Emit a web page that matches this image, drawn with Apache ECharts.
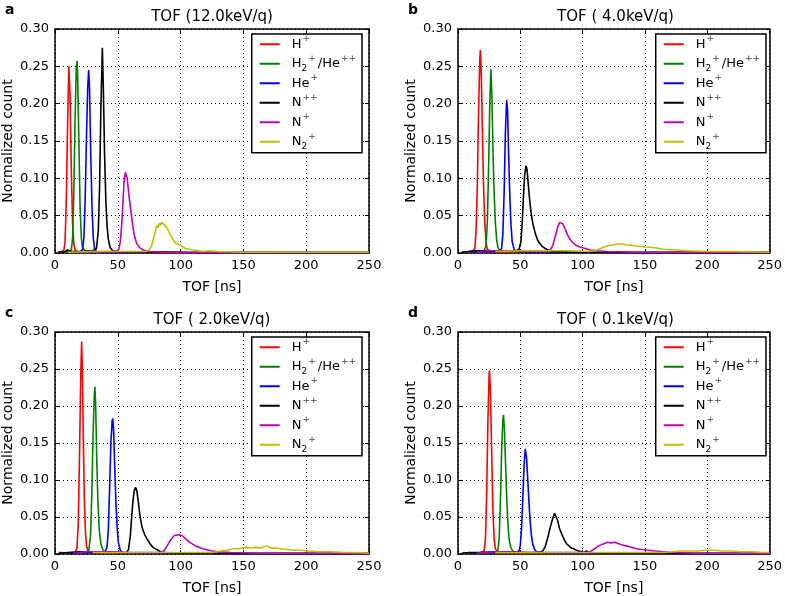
<!DOCTYPE html>
<html>
<head>
<meta charset="utf-8">
<script src="https://cdn.jsdelivr.net/npm/echarts@6/dist/echarts.min.js"></script>
<style>html,body{margin:0;padding:0;background:#fff}#c{width:785px;height:596px}</style>
</head>
<body>
<div id="c"></div>
<script>
// ---------- labels ----------
const panelTitles = ['TOF (12.0keV/q)', 'TOF ( 4.0keV/q)', 'TOF ( 2.0keV/q)', 'TOF ( 0.1keV/q)'];
const panelLetters = ['a', 'b', 'c', 'd'];
const seriesNames = ['H+', 'H2+/He++', 'He+', 'N++', 'N+', 'N2+'];
const seriesColors = ['#ff0000', '#008000', '#0000ff', '#000000', '#bf00bf', '#bfbf00'];
const xTickRange = [0, 250, 50];
const yTickRange = [0, 0.30, 0.05];

// ---------- panel a: 12.0 keV/q ----------
const a_H = [[2,0.001],[5,0.002],[7,0.003],[8,0.015],[9,0.07],[10,0.17],[11,0.25],[12,0.21],[13,0.11],[14,0.04],[15,0.012],[16,0.004],[18,0.002],[25,0.001],[60,0.0005],[250,0.0003]];
const a_H2 = [[5,0.001],[10,0.002],[13,0.004],[14,0.02],[15,0.08],[16,0.18],[17,0.25],[17.5,0.257],[18,0.24],[19,0.15],[20,0.06],[21,0.02],[22,0.007],[24,0.003],[30,0.002],[50,0.001],[250,0.0005]];
const a_He = [[10,0.001],[20,0.002],[22,0.005],[23,0.02],[24,0.07],[25,0.15],[26,0.22],[26.8,0.245],[27.5,0.22],[28.5,0.13],[29.5,0.06],[30.5,0.02],[31.5,0.006],[33,0.002],[40,0.001],[250,0.0005]];
const a_Npp = [[3,0.001],[8,0.002],[10,0.004],[12,0.002],[20,0.002],[30,0.003],[33,0.006],[34.5,0.03],[35.5,0.09],[36.5,0.19],[37.7,0.275],[38.5,0.22],[39.5,0.13],[40.5,0.07],[41.5,0.035],[42.5,0.018],[44,0.007],[46,0.003],[50,0.002],[100,0.001],[250,0.0005]];
const a_Np = [[20,0.001],[40,0.002],[48,0.002],[50,0.003],[51,0.006],[52,0.015],[53,0.035],[54,0.065],[55,0.095],[56,0.108],[56.7,0.11],[57.5,0.1],[58.5,0.083],[59.5,0.068],[60.5,0.055],[61.5,0.042],[62.5,0.03],[63.5,0.021],[65,0.013],[67,0.008],[69,0.005],[72,0.003],[76,0.002],[85,0.001],[250,0.0005]];
const a_N2 = [[10,0.001],[30,0.002],[45,0.002],[60,0.002],[72,0.002],[75,0.004],[77,0.01],[78.5,0.02],[80,0.03],[81,0.037],[82,0.034],[83,0.04],[84,0.037],[85,0.041],[86,0.043],[87,0.038],[88,0.036],[89,0.034],[90,0.031],[91,0.029],[92,0.024],[93,0.021],[94,0.018],[95,0.016],[96,0.013],[98,0.012],[100,0.01],[102,0.008],[104,0.006],[107,0.005],[110,0.004],[114,0.003],[118,0.002],[122,0.003],[130,0.002],[150,0.001],[250,0.001]];

// ---------- panel b: 4.0 keV/q ----------
const b_H = [[3,0.001],[8,0.001],[12,0.002],[13.5,0.006],[14.5,0.03],[15.5,0.09],[16.5,0.19],[17.5,0.26],[18,0.272],[18.7,0.24],[19.5,0.17],[20.5,0.09],[21.5,0.04],[22.5,0.015],[23.5,0.005],[26,0.002],[40,0.001],[250,0.0005]];
const b_H2 = [[5,0.001],[15,0.002],[21,0.003],[22.5,0.01],[23.5,0.04],[24.5,0.11],[25.5,0.2],[26.4,0.246],[27.2,0.21],[28,0.14],[29,0.08],[30,0.04],[31,0.018],[32,0.008],[33.5,0.003],[40,0.002],[60,0.001],[250,0.0005]];
const b_He = [[10,0.001],[25,0.002],[33,0.002],[35,0.006],[36,0.025],[37,0.08],[38,0.16],[39,0.205],[39.8,0.19],[40.5,0.14],[41.5,0.08],[42.5,0.038],[43.5,0.015],[45,0.005],[47,0.002],[60,0.001],[250,0.0005]];
const b_Npp = [[3,0.001],[8,0.002],[12,0.003],[20,0.003],[30,0.003],[40,0.003],[47,0.003],[49,0.005],[50.5,0.015],[51.5,0.04],[52.5,0.075],[53.5,0.105],[54.5,0.117],[55.3,0.113],[56,0.1],[57,0.08],[58,0.063],[59,0.05],[60,0.04],[61,0.033],[62,0.026],[63.5,0.019],[65,0.014],[67,0.01],[69,0.007],[72,0.004],[76,0.002],[90,0.001],[250,0.0005]];
const b_Np = [[15,0.001],[25,0.003],[40,0.003],[60,0.002],[72,0.002],[74,0.004],[76,0.01],[78,0.022],[80,0.035],[81.5,0.041],[82.7,0.042],[84,0.039],[86,0.032],[88,0.024],[90,0.018],[92,0.014],[95,0.01],[98,0.008],[102,0.006],[106,0.004],[112,0.003],[120,0.002],[140,0.001],[250,0.0005]];
const b_N2 = [[30,0.002],[50,0.003],[70,0.003],[90,0.003],[105,0.002],[110,0.003],[113,0.005],[117,0.008],[121,0.01],[125,0.011],[128,0.012],[131,0.012],[135,0.011],[140,0.01],[145,0.009],[150,0.008],[158,0.007],[165,0.005],[175,0.004],[185,0.003],[200,0.002],[220,0.002],[250,0.001]];

// ---------- panel c: 2.0 keV/q ----------
const c_H = [[3,0.002],[5,0.002],[10,0.001],[16,0.002],[17.5,0.008],[18.5,0.04],[19.5,0.13],[20.5,0.24],[21.2,0.287],[21.8,0.25],[22.5,0.16],[23.3,0.08],[24.2,0.03],[25.2,0.01],[26.5,0.004],[30,0.002],[50,0.001],[250,0.0005]];
const c_H2 = [[5,0.001],[15,0.002],[25,0.003],[27,0.006],[28.3,0.025],[29.3,0.08],[30.3,0.16],[31.3,0.215],[31.8,0.226],[32.4,0.2],[33.2,0.13],[34.2,0.07],[35.2,0.033],[36.5,0.014],[38,0.006],[40,0.003],[50,0.002],[70,0.001],[250,0.0005]];
const c_He = [[10,0.001],[25,0.002],[35,0.002],[40,0.003],[41.5,0.01],[42.5,0.035],[43.5,0.09],[44.5,0.15],[45.5,0.18],[46,0.183],[46.7,0.165],[47.5,0.12],[48.5,0.07],[49.5,0.035],[50.5,0.015],[52,0.005],[54,0.002],[70,0.001],[250,0.0005]];
const c_Npp = [[3,0.001],[10,0.002],[20,0.003],[30,0.003],[40,0.003],[50,0.002],[57,0.002],[58.5,0.006],[60,0.025],[61,0.05],[62,0.07],[63,0.085],[64.2,0.09],[65.2,0.085],[66.2,0.072],[67.2,0.058],[68.2,0.046],[69.2,0.037],[70.3,0.031],[71.5,0.026],[73,0.021],[74.5,0.017],[76,0.013],[78,0.009],[80,0.007],[82,0.005],[84,0.003],[88,0.002],[100,0.001],[250,0.0005]];
const c_Np = [[15,0.001],[25,0.003],[40,0.003],[60,0.002],[80,0.002],[85,0.002],[87,0.005],[89,0.01],[91,0.016],[93,0.021],[95,0.025],[96.5,0.027],[98,0.026],[99.5,0.027],[101,0.025],[103,0.022],[105,0.019],[107,0.016],[110,0.013],[113,0.01],[116,0.008],[120,0.006],[125,0.004],[130,0.003],[140,0.002],[160,0.001],[250,0.0005]];
const c_N2 = [[30,0.002],[60,0.002],[90,0.002],[115,0.002],[125,0.002],[132,0.004],[137,0.005],[142,0.007],[147,0.007],[152,0.009],[156,0.008],[160,0.009],[164,0.008],[168,0.011],[172,0.008],[176,0.008],[180,0.007],[185,0.006],[190,0.005],[196,0.005],[202,0.004],[210,0.003],[220,0.003],[230,0.002],[240,0.002],[250,0.001]];

// ---------- panel d: 0.1 keV/q ----------
const d_H = [[3,0.001],[10,0.001],[18,0.002],[21,0.004],[22,0.02],[23,0.08],[24,0.18],[25,0.245],[25.3,0.248],[26,0.22],[27,0.14],[28,0.06],[29,0.02],[30,0.007],[32,0.002],[40,0.001],[250,0.0005]];
const d_H2 = [[5,0.001],[9,0.002],[10.5,0.004],[12,0.001],[20,0.002],[30,0.002],[32,0.005],[33,0.02],[34,0.07],[35,0.14],[36,0.182],[36.5,0.188],[37.2,0.17],[38,0.13],[39,0.08],[40,0.042],[41,0.02],[42.5,0.008],[44.5,0.003],[50,0.002],[80,0.001],[250,0.0005]];
const d_He = [[10,0.001],[20,0.002],[35,0.002],[45,0.002],[49,0.004],[50,0.012],[51,0.035],[52,0.075],[53,0.12],[54,0.142],[55,0.13],[56,0.1],[57,0.068],[58,0.042],[59,0.024],[60,0.013],[61.5,0.006],[63,0.003],[66,0.002],[80,0.001],[250,0.0005]];
const d_Npp = [[3,0.001],[10,0.002],[20,0.002],[30,0.003],[40,0.003],[55,0.002],[65,0.002],[68,0.004],[70,0.01],[72,0.022],[74,0.036],[76,0.048],[77.5,0.055],[78.5,0.054],[80,0.045],[81.5,0.034],[83,0.028],[85,0.02],[87,0.014],[89,0.011],[91,0.008],[93,0.007],[95,0.005],[97,0.004],[99,0.003],[101,0.002],[103,0.004],[105,0.002],[120,0.001],[250,0.0005]];
const d_Np = [[15,0.001],[30,0.003],[50,0.002],[80,0.002],[100,0.002],[105,0.002],[108,0.005],[111,0.009],[114,0.012],[117,0.014],[120,0.016],[123,0.015],[126,0.016],[129,0.014],[132,0.012],[135,0.011],[139,0.009],[143,0.007],[148,0.006],[153,0.005],[158,0.004],[165,0.003],[172,0.002],[190,0.001],[250,0.0005]];
const d_N2 = [[30,0.002],[60,0.002],[90,0.002],[120,0.002],[150,0.002],[165,0.002],[172,0.003],[178,0.004],[185,0.004],[192,0.004],[198,0.005],[205,0.005],[212,0.004],[220,0.004],[228,0.003],[236,0.003],[244,0.002],[250,0.002]];

const panelData = [
  [a_H, a_H2, a_He, a_Npp, a_Np, a_N2],
  [b_H, b_H2, b_He, b_Npp, b_Np, b_N2],
  [c_H, c_H2, c_He, c_Npp, c_Np, c_N2],
  [d_H, d_H2, d_He, d_Npp, d_Np, d_N2]
];

// ---------- layout ----------
const FONT = 'DejaVu Sans';
const gridRects = [
  {left: 55, top: 29, width: 314, height: 224},
  {left: 458, top: 29, width: 315, height: 224},
  {left: 55, top: 332, width: 314, height: 223},
  {left: 458, top: 332, width: 315, height: 223}
];
const legendRich = {
  'H+': '{sp| }{n|H}{sup|+}',
  'H2+/He++': '{sp| }{n|H}{sub|2}{sup|+}{gap| }{n|/He}{sup|++}',
  'He+': '{sp| }{n|He}{sup|+}',
  'N++': '{sp| }{n|N}{sup|++}',
  'N+': '{sp| }{n|N}{sup|+}',
  'N2+': '{sp| }{n|N}{sub|2}{sup|+}'
};

const option = {
  animation: false,
  backgroundColor: '#fff',
  textStyle: {fontFamily: FONT},
  grid: [], xAxis: [], yAxis: [], legend: [], series: [], graphic: []
};

gridRects.forEach((g, p) => {
  option.grid.push(Object.assign({containLabel: false}, g));
  const axisFont = {fontFamily: FONT, fontSize: 13, color: '#000'};
  const tickCfg = {show: true, inside: true, length: 4, lineStyle: {color: '#000', width: 1}};
  option.xAxis.push({
    type: 'value', gridIndex: p, min: xTickRange[0], max: xTickRange[1], interval: xTickRange[2],
    position: 'bottom',
    name: 'TOF [ns]', nameLocation: 'middle', nameGap: 27,
    nameTextStyle: {fontFamily: FONT, fontSize: 14, color: '#000'},
    axisLine: {show: true, onZero: false, lineStyle: {color: '#000', width: 1.5}},
    axisTick: tickCfg,
    axisLabel: Object.assign({margin: 6}, axisFont),
    splitLine: {show: true, lineStyle: {color: '#000', width: 1, type: [1, 3]}}
  });
  option.xAxis.push({
    type: 'value', gridIndex: p, min: xTickRange[0], max: xTickRange[1], interval: xTickRange[2],
    position: 'top',
    axisLine: {show: true, onZero: false, lineStyle: {color: '#000', width: 1.5}},
    axisTick: tickCfg, axisLabel: {show: false}, splitLine: {show: false}
  });
  option.yAxis.push({
    type: 'value', gridIndex: p, min: yTickRange[0], max: yTickRange[1], interval: yTickRange[2],
    position: 'left',
    name: 'Normalized count', nameLocation: 'middle', nameGap: 40,
    nameTextStyle: {fontFamily: FONT, fontSize: 14, color: '#000'},
    axisLine: {show: true, onZero: false, lineStyle: {color: '#000', width: 1.5}},
    axisTick: tickCfg,
    axisLabel: Object.assign({margin: 6, formatter: v => v.toFixed(2)}, axisFont),
    splitLine: {show: true, lineStyle: {color: '#000', width: 1, type: [1, 3]}}
  });
  option.yAxis.push({
    type: 'value', gridIndex: p, min: yTickRange[0], max: yTickRange[1], interval: yTickRange[2],
    position: 'right',
    axisLine: {show: true, onZero: false, lineStyle: {color: '#000', width: 1.5}},
    axisTick: tickCfg, axisLabel: {show: false}, splitLine: {show: false}
  });

  option.legend.push({
    orient: 'vertical',
    right: 785 - (g.left + g.width - 7),
    top: g.top + 5,
    data: seriesNames,
    icon: 'rect', itemWidth: 20, itemHeight: 2, itemGap: 0,
    selectedMode: false,
    backgroundColor: '#fff', borderColor: '#000', borderWidth: 1.5, borderRadius: 0,
    padding: [0.5, 6, 1.2, 8],
    formatter: name => legendRich[name],
    textStyle: {
      fontFamily: FONT, fontSize: 13, color: '#000', lineHeight: 19.5,
      rich: {
        sp: {width: 7, fontSize: 13, lineHeight: 19.5},
        gap: {width: 2, fontSize: 13, lineHeight: 19.5},
        n: {fontFamily: FONT, fontSize: 13, color: '#000', lineHeight: 19.5},
        sup: {fontFamily: FONT, fontSize: 9, color: '#444', lineHeight: 12, verticalAlign: 'top', padding: [0, 0, 0, 1]},
        sub: {fontFamily: FONT, fontSize: 9, color: '#000', lineHeight: 10, verticalAlign: 'bottom'}
      }
    }
  });

  panelData[p].forEach((arr, s) => {
    option.series.push({
      type: 'line', name: seriesNames[s], xAxisIndex: p * 2, yAxisIndex: p * 2,
      data: arr, showSymbol: false, symbol: 'none',
      lineStyle: {color: seriesColors[s], width: 1.6},
      itemStyle: {color: seriesColors[s]},
      z: 2 + s * 0.01
    });
  });

  option.graphic.push({
    type: 'text', silent: true,
    style: {x: g.left + g.width / 2, y: g.top - 12, text: panelTitles[p], textAlign: 'center', textVerticalAlign: 'middle',
      font: '15px "DejaVu Sans"', fill: '#000'}
  });
  option.graphic.push({
    type: 'text', silent: true,
    style: {x: g.left - 50, y: g.top - 19, text: panelLetters[p], textAlign: 'left', textVerticalAlign: 'middle',
      font: 'bold 14px "DejaVu Sans"', fill: '#000'}
  });
});

const chart = echarts.init(document.getElementById('c'), null, {renderer: 'canvas'});
chart.setOption(option);
</script>
</body>
</html>
